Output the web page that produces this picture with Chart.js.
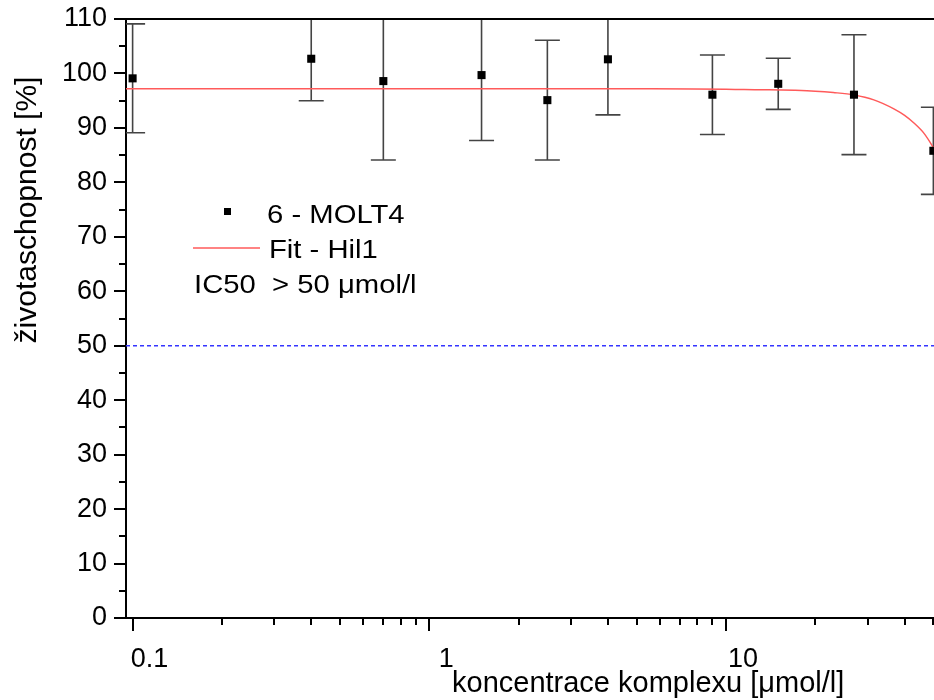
<!DOCTYPE html>
<html>
<head>
<meta charset="utf-8">
<title>životaschopnost - MOLT4</title>
<script src="https://cdn.jsdelivr.net/npm/chart.js@4.4.1/dist/chart.umd.min.js"></script>
<style>
html,body{margin:0;padding:0;background:#fff;overflow:hidden}
#wrap{width:934px;height:700px;overflow:hidden}
</style>
</head>
<body>
<div id="wrap">
<canvas id="viability" width="1000" height="700"></canvas>
</div>
<script>

/* =========================
   DATA
========================= */

const concentrations = [0.1, 0.4, 0.7, 1.5, 2.5, 4, 9, 15, 27, 50]
const viability = [99.1, 102.7, 98.6, 99.7, 95.1, 102.6, 96.1, 98.1, 96.1, 85.8]
const viabilitySD = [10.0, 7.7, 14.5, 12.0, 11.0, 10.2, 7.3, 4.7, 11.0, 8.0]

// Hill1 fit curve
const fitX = [0.095, 0.5, 2, 5, 7.8, 10, 11.5, 14, 17, 20, 23, 27, 31.5, 36.8, 40, 43, 46.5, 50, 51]
const fitY = [97.2, 97.2, 97.2, 97.19, 97.16, 97.1, 97.05, 97.0, 96.9, 96.75, 96.5, 96.06, 95.15, 93.5, 92.3, 90.9, 89.0, 86.4, 85.6]

const ic50Level = 50

const xRange = [0.095, 77.6]
const xMajorTicks = [0.1, 1, 10]
const xMinorTicks = [0.2,0.3,0.4,0.5,0.6,0.7,0.8,0.9,2,3,4,5,6,7,8,9,20,30,40,50,60,70]
const yRange = [0, 110]
const yMinorTicks = [5,15,25,35,45,55,65,75,85,95,105]

const xTitle = "koncentrace komplexu [μmol/l]"
const yTitle = "životaschopnost [%]"
const legendItems = ["6 - MOLT4", "Fit - Hil1", "IC50  > 50 μmol/l"]

const FONT = "'Liberation Sans', Arial, sans-serif"

Chart.defaults.font.family = FONT
Chart.defaults.color = "#000"


/* =========================
   ERROR BARS
========================= */

const errorBars = {
id:"errorBars",
beforeDatasetsDraw(chart){

const {ctx, chartArea, scales} = chart

ctx.save()
ctx.beginPath()
ctx.rect(chartArea.left, chartArea.top, chartArea.right-chartArea.left, chartArea.bottom-chartArea.top)
ctx.clip()

ctx.strokeStyle = "#444"
ctx.lineWidth = 1.6

concentrations.forEach((c,i)=>{

const x = scales.x.getPixelForValue(c)
const yHi = scales.y.getPixelForValue(viability[i] + viabilitySD[i])
const yLo = scales.y.getPixelForValue(viability[i] - viabilitySD[i])

ctx.beginPath()
ctx.moveTo(x, yHi)
ctx.lineTo(x, yLo)
ctx.moveTo(x-12.5, yHi)
ctx.lineTo(x+12.5, yHi)
ctx.moveTo(x-12.5, yLo)
ctx.lineTo(x+12.5, yLo)
ctx.stroke()

})

ctx.restore()
}
}


/* =========================
   FRAME, MINOR TICKS, TITLES, LEGEND
========================= */

function wideText(ctx, text, x, y, size){
ctx.save()
ctx.translate(x, y)
ctx.scale(1.17, 1)
ctx.font = size + "px " + FONT
ctx.fillText(text, 0, 0)
ctx.restore()
}

const decorations = {
id:"decorations",
afterDraw(chart){

const {ctx, chartArea, scales} = chart

ctx.save()
ctx.strokeStyle = "#000"
ctx.fillStyle = "#000"
ctx.lineWidth = 2

/* top frame line */
ctx.beginPath()
ctx.moveTo(chartArea.left, chartArea.top)
ctx.lineTo(chartArea.right, chartArea.top)
ctx.stroke()

/* minor ticks */
ctx.beginPath()
yMinorTicks.forEach(v=>{
const y = Math.round(scales.y.getPixelForValue(v))
ctx.moveTo(chartArea.left-7, y)
ctx.lineTo(chartArea.left, y)
})
xMinorTicks.forEach(v=>{
const x = Math.round(scales.x.getPixelForValue(v))
ctx.moveTo(x, chartArea.bottom)
ctx.lineTo(x, chartArea.bottom+7)
})
ctx.stroke()

/* axis titles */
ctx.font = "29px " + FONT
ctx.textAlign = "left"
ctx.textBaseline = "alphabetic"
ctx.fillText(xTitle, 452, 692)

ctx.save()
ctx.translate(36, 210)
ctx.rotate(-Math.PI/2)
ctx.font = "30px " + FONT
ctx.textAlign = "center"
ctx.fillText(yTitle, 0, 0)
ctx.restore()

/* legend */
ctx.fillRect(224, 208, 7, 7)
wideText(ctx, legendItems[0], 267, 223, 25)

ctx.strokeStyle = "#ff5a5a"
ctx.lineWidth = 1.5
ctx.beginPath()
ctx.moveTo(193, 248)
ctx.lineTo(260, 248)
ctx.stroke()
wideText(ctx, legendItems[1], 269, 258, 25)

wideText(ctx, legendItems[2], 194, 293, 25)

ctx.restore()
}
}


/* =========================
   CHART
========================= */

const canvas = document.getElementById("viability")

new Chart(canvas,{

type:"scatter",

data:{
datasets:[
{
label:legendItems[0],
data:concentrations.map((c,i)=>({x:c, y:viability[i]})),
pointStyle:"rect",
pointRadius:5.7,
pointHoverRadius:5.7,
backgroundColor:"#000",
borderColor:"#000",
borderWidth:0,
showLine:false
},
{
label:legendItems[1],
data:fitX.map((x,i)=>({x:x, y:fitY[i]})),
showLine:true,
pointRadius:0,
borderColor:"#ff5a5a",
borderWidth:1.5,
cubicInterpolationMode:"monotone",
fill:false
},
{
label:"IC50",
data:[{x:xRange[0], y:ic50Level},{x:xRange[1], y:ic50Level}],
showLine:true,
pointRadius:0,
borderColor:"#3535ff",
borderWidth:1.3,
borderDash:[4,3],
fill:false
}
]
},

options:{
responsive:false,
animation:false,
devicePixelRatio:1,
layout:{padding:{top:19, right:10, left:0, bottom:0}},
plugins:{
legend:{display:false},
tooltip:{enabled:false}
},
scales:{
x:{
type:"logarithmic",
min:xRange[0],
max:xRange[1],
afterBuildTicks:(scale)=>{
scale.ticks = xMajorTicks.map(v=>({value:v}))
},
afterFit:(scale)=>{
scale.height = 82
scale.paddingLeft = 0
scale.paddingRight = 0
},
border:{color:"#000", width:2},
grid:{drawOnChartArea:false, drawTicks:true, tickLength:13, tickColor:"#000", tickWidth:2, lineWidth:2},
ticks:{
font:{size:27},
color:"#000",
padding:12,
labelOffset:17,
maxRotation:0,
autoSkip:false,
callback:(v)=>String(v)
}
},
y:{
min:yRange[0],
max:yRange[1],
afterFit:(scale)=>{
scale.width = 126
scale.paddingTop = 0
scale.paddingBottom = 0
},
border:{color:"#000", width:2},
grid:{drawOnChartArea:false, drawTicks:true, tickLength:12, tickColor:"#000", tickWidth:2, lineWidth:2},
ticks:{
stepSize:10,
font:{size:27},
color:"#000",
padding:7
}
}
}
},

plugins:[errorBars, decorations]

})

</script>
</body>
</html>
